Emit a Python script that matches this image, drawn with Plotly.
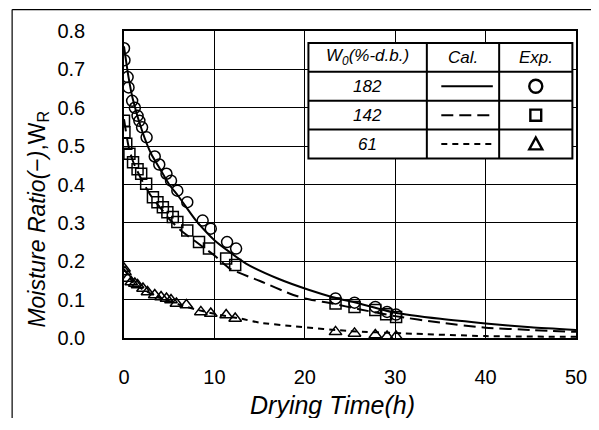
import plotly.graph_objects as go

t_182 = [0.0, 0.05, 0.4, 0.5, 0.9, 1.2, 1.5, 1.7, 2.0, 2.5, 3.4, 3.9, 4.7, 5.2, 5.9, 7.0, 8.7, 9.6, 11.4, 12.4,
         23.4, 25.5, 27.8, 29.1, 30.1]
w_182 = [0.755, 0.724, 0.68, 0.653, 0.618, 0.60, 0.579, 0.566, 0.549, 0.523, 0.473, 0.452, 0.428, 0.41, 0.384, 0.354, 0.306, 0.285, 0.25, 0.233,
         0.103, 0.092, 0.081, 0.068, 0.061]

t_142 = [0.0, 0.05, 0.25, 0.6, 1.0, 1.5, 1.9, 2.45, 3.2, 3.7, 4.3, 4.8, 5.4, 5.9, 7.0, 8.3, 9.4, 11.3, 12.3,
         23.4, 25.5, 27.8, 29.0, 30.1]
w_142 = [0.566, 0.536, 0.506, 0.48, 0.458, 0.44, 0.428, 0.402, 0.367, 0.354, 0.341, 0.328, 0.315, 0.302, 0.28, 0.25, 0.233, 0.207, 0.19,
         0.09, 0.081, 0.073, 0.062, 0.055]

t_61 = [0.0, 0.1, 0.4, 0.8, 1.2, 1.5, 2.1, 2.6, 3.4, 4.1, 4.7, 5.2, 5.8, 6.9, 8.5, 9.6, 11.3, 12.3,
        23.4, 25.5, 27.8, 29.1, 30.1]
w_61 = [0.181, 0.172, 0.155, 0.146, 0.142, 0.138, 0.129, 0.12, 0.112, 0.107, 0.103, 0.099, 0.09, 0.086, 0.068, 0.064, 0.06, 0.051,
        0.016, 0.012, 0.008, 0.004, 0.004]

# ---- calculated curves ----
tc_182 = [0, 0.5, 1, 2, 3, 4, 5, 6, 8, 10, 13.5, 17, 20.5, 23, 26, 30, 35, 40, 45, 50]
wc_182 = [0.76, 0.68, 0.62, 0.54, 0.48, 0.44, 0.40, 0.37, 0.305, 0.255, 0.194, 0.155, 0.125, 0.107, 0.09, 0.066, 0.05, 0.038, 0.028, 0.021]

tc_142 = [0, 0.5, 1, 2, 3, 4, 5, 6.5, 8, 10, 11.7, 15.3, 18.3, 20, 23, 26, 30, 35, 40, 45, 50]
wc_142 = [0.57, 0.50, 0.46, 0.41, 0.37, 0.34, 0.31, 0.276, 0.25, 0.215, 0.181, 0.146, 0.116, 0.103, 0.09, 0.075, 0.057, 0.04, 0.027, 0.021, 0.016]

tc_61 = [0, 1, 2, 3, 4, 6, 8, 10, 13, 15, 19, 25, 31, 40, 50]
wc_61 = [0.18, 0.145, 0.128, 0.115, 0.105, 0.088, 0.074, 0.063, 0.05, 0.04, 0.03, 0.018, 0.012, 0.005, 0.003]

x_ticks = [0, 10, 20, 30, 40, 50]
y_ticks = [0.0, 0.1, 0.2, 0.3, 0.4, 0.5, 0.6, 0.7, 0.8]
legend_w0 = ["182", "142", "61"]

FONT = "Liberation Sans, Arial, sans-serif"

fig = go.Figure()
line_dashes = ["solid", "12px,6px", "6px,5px"]
for tc, wc, d in [(tc_182, wc_182, line_dashes[0]), (tc_142, wc_142, line_dashes[1]), (tc_61, wc_61, line_dashes[2])]:
    fig.add_trace(go.Scatter(x=tc, y=wc, mode="lines", line=dict(color="black", width=2, dash=d, shape="spline", smoothing=0.6),
                             showlegend=False, hoverinfo="skip"))
for te, we, sym in [(t_182, w_182, "circle-open"), (t_142, w_142, "square-open"), (t_61, w_61, "triangle-up-open")]:
    fig.add_trace(go.Scatter(x=te, y=we, mode="markers",
                             marker=dict(symbol=sym, size=11, color="black", line=dict(width=1.5, color="black")),
                             showlegend=False))

axis_common = dict(showgrid=True, gridcolor="black", gridwidth=1.2, showline=True, linecolor="black", linewidth=1.6,
                   mirror=True, zeroline=False, ticks="", tickfont=dict(family=FONT, size=20, color="black"))
fig.update_xaxes(range=[0, 50], tickvals=x_ticks, ticktext=[str(v) for v in x_ticks], ticklabelstandoff=20,
                 **axis_common)
fig.update_yaxes(range=[0, 0.8], tickvals=y_ticks, ticktext=[f"{v:.1f}" for v in y_ticks], ticklabelstandoff=33,
                 **axis_common)

# axis titles as annotations (placed where the reference has them)
annotations = [
    dict(text="<i>Moisture Ratio(</i>−<i>)</i>,W<sub>R</sub>", textangle=-90, xref="paper", yref="paper",
         x=-0.19, y=0.386, xanchor="center", yanchor="middle", showarrow=False,
         font=dict(family=FONT, size=23, color="black")),
    dict(text="<i>Drying Time(h)</i>", xref="paper", yref="paper", x=0.462, y=-0.2175,
         xanchor="center", yanchor="middle", showarrow=False, font=dict(family=FONT, size=25, color="black")),
]

# ---- legend table (built with shapes/annotations in data coords) ----
cx = [20.4, 33.5, 41.5, 49.6]
ry = [0.769, 0.694, 0.618, 0.543, 0.468]
shapes = [dict(type="rect", xref="x", yref="y", x0=cx[0], x1=cx[3], y0=ry[4], y1=ry[0],
               fillcolor="white", line=dict(color="black", width=2), layer="above")]
for xv in cx[1:3]:
    shapes.append(dict(type="line", xref="x", yref="y", x0=xv, x1=xv, y0=ry[4], y1=ry[0], line=dict(color="black", width=2), layer="above"))
for yv in ry[1:4]:
    shapes.append(dict(type="line", xref="x", yref="y", x0=cx[0], x1=cx[3], y0=yv, y1=yv, line=dict(color="black", width=2), layer="above"))

hdr = ["<i>W<sub>0</sub>(%-d.b.)</i>", "<i>Cal.</i>", "<i>Exp.</i>"]
for i, h in enumerate(hdr):
    annotations.append(dict(text=h, xref="x", yref="y", x=(cx[i] + cx[i + 1]) / 2, y=(ry[0] + ry[1]) / 2,
                            showarrow=False, font=dict(family=FONT, size=17, color="black")))
for r, lab in enumerate(legend_w0):
    ymid = (ry[r + 1] + ry[r + 2]) / 2
    annotations.append(dict(text=f"<i>{lab}</i>", xref="x", yref="y", x=(cx[0] + cx[1]) / 2, y=ymid,
                            showarrow=False, font=dict(family=FONT, size=17, color="black")))
    shapes.append(dict(type="line", xref="x", yref="y", x0=35.1, x1=40.8, y0=ymid, y1=ymid,
                       line=dict(color="black", width=2.2, dash=line_dashes[r]), layer="above"))
    xm = (cx[2] + cx[3]) / 2
    if r == 0:
        shapes.append(dict(type="circle", xref="x", yref="y", x0=xm - 0.72, x1=xm + 0.72, y0=ymid - 0.017, y1=ymid + 0.017,
                           line=dict(color="black", width=2.4), layer="above"))
    elif r == 1:
        shapes.append(dict(type="rect", xref="x", yref="y", x0=xm - 0.6, x1=xm + 0.6, y0=ymid - 0.0145, y1=ymid + 0.0145,
                           line=dict(color="black", width=2.4), layer="above"))
    else:
        shapes.append(dict(type="path", xref="x", yref="y",
                           path=f"M {xm - 0.72} {ymid - 0.014} L {xm + 0.72} {ymid - 0.014} L {xm} {ymid + 0.017} Z",
                           line=dict(color="black", width=2.4), layer="above"))

# outer frame (left and top edges of the scanned figure)
shapes.append(dict(type="line", xref="paper", yref="paper", x0=-0.2475, x1=-0.2475, y0=-0.27, y1=1.0698,
                   line=dict(color="black", width=1.2)))
shapes.append(dict(type="line", xref="paper", yref="paper", x0=-0.2475, x1=1.05, y0=1.0698, y1=1.0698,
                   line=dict(color="black", width=1.2)))

# page body adds an 8px margin; size the figure so the plot area lands where the reference has it
fig.update_layout(width=591, height=410, margin=dict(l=116, r=20, t=22, b=80),
                  paper_bgcolor="white", plot_bgcolor="white", shapes=shapes, annotations=annotations,
                  font=dict(family=FONT, color="black"))
fig.write_html("out.html")
